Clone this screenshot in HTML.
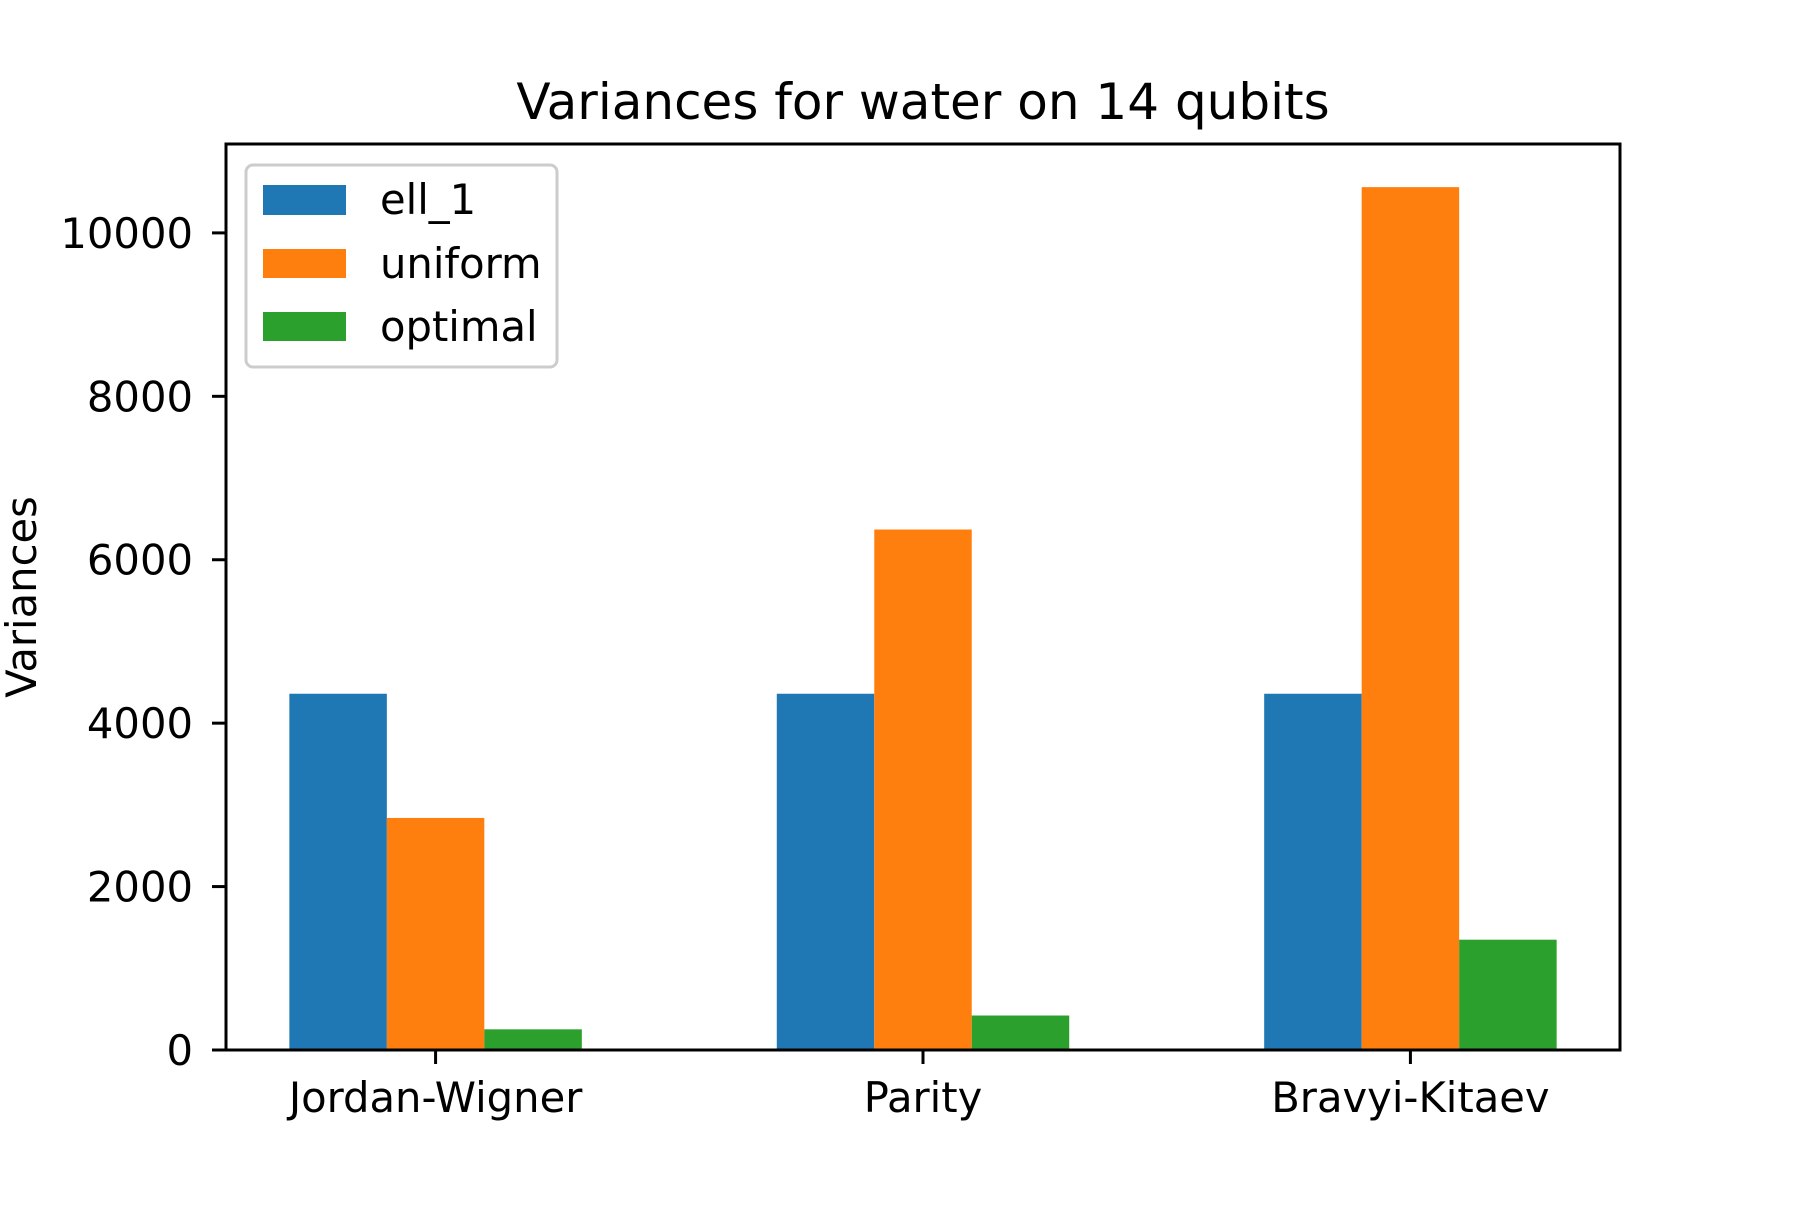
<!DOCTYPE html>
<html><head><meta charset="utf-8"><style>
body{margin:0;background:#fff}
text{font-family:"DejaVu Sans","Liberation Sans",sans-serif;fill:#000}
</style></head><body>
<svg id="chart" width="1800" height="1200" xmlns="http://www.w3.org/2000/svg">
<rect width="1800" height="1200" fill="#fff"/>
<text x="923" y="119" font-size="50" text-anchor="middle">Variances for water on 14 qubits</text>
<text transform="translate(36,597) rotate(-90)" font-size="41.7" text-anchor="middle">Variances</text>
<g id="bars"></g>
<g id="axes"></g>
<g>
<rect x="246" y="165" width="311" height="202" rx="7" fill="#fff" fill-opacity="0.8" stroke="#ccc" stroke-width="3"/>
<rect x="263" y="185" width="83" height="30" fill="#1f77b4"/>
<text x="380" y="214" font-size="41.7">ell_1</text>
<rect x="263" y="249" width="83" height="29" fill="#ff7f0e"/>
<text x="380" y="278" font-size="41.7">uniform</text>
<rect x="263" y="312" width="83" height="29" fill="#2ca02c"/>
<text x="380" y="341" font-size="41.7">optimal</text>
</g>
</svg>
<script>
const categories = ["Jordan-Wigner", "Parity", "Bravyi-Kitaev"];
const ell1 = [4360, 4360, 4360];
const uniform = [2840, 6370, 10560];
const optimal = [253, 422, 1350];
const yTicks = [0, 2000, 4000, 6000, 8000, 10000];

const NS = "http://www.w3.org/2000/svg";
const L = 226, R = 1620, T = 144, B = 1050;
const allVals = ell1.concat(uniform, optimal);
const yMax = Math.max(...allVals) * 1.05;
const xMin = -0.43, xMax = (categories.length - 1) + 0.43;
const xs = v => L + (v - xMin) / (xMax - xMin) * (R - L);
const ys = v => B - v / yMax * (B - T);
const series = [
  {name: "ell1", vals: ell1, color: "#1f77b4", off: -0.2},
  {name: "uniform", vals: uniform, color: "#ff7f0e", off: 0},
  {name: "optimal", vals: optimal, color: "#2ca02c", off: 0.2}
];
const bw = 0.2;
const bars = document.getElementById("bars");
series.forEach(s => {
  s.vals.forEach((v, i) => {
    const r = document.createElementNS(NS, "rect");
    const x0 = xs(i + s.off - bw / 2), x1 = xs(i + s.off + bw / 2);
    r.setAttribute("x", x0);
    r.setAttribute("width", x1 - x0);
    r.setAttribute("y", ys(v));
    r.setAttribute("height", B - ys(v));
    r.setAttribute("fill", s.color);
    
    
    bars.appendChild(r);
  });
});
const axes = document.getElementById("axes");
function add(tag, attrs, txt) {
  const e = document.createElementNS(NS, tag);
  for (const k in attrs) e.setAttribute(k, attrs[k]);
  if (txt !== undefined) e.textContent = txt;
  axes.appendChild(e);
  return e;
}
yTicks.forEach(t => {
  const y = ys(t);
  const ln = add("line", {x1: L - 14, x2: L, y1: y, y2: y, stroke: "#000", "stroke-width": 3});
  
  
  const tx = add("text", {x: L - 33, y: y + 15, "font-size": 41.7, "text-anchor": "end"}, String(t));
  
  
});
categories.forEach((c, i) => {
  const x = xs(i);
  const ln = add("line", {x1: x, x2: x, y1: B, y2: B + 14, stroke: "#000", "stroke-width": 3});
  
  
  const tx = add("text", {x: x, y: 1112, "font-size": 41.7, "text-anchor": "middle"}, c);
  
  
});
const frame = add("rect", {x: L, y: T, width: R - L, height: B - T, fill: "none", stroke: "#000", "stroke-width": 3});


</script>
</body></html>
